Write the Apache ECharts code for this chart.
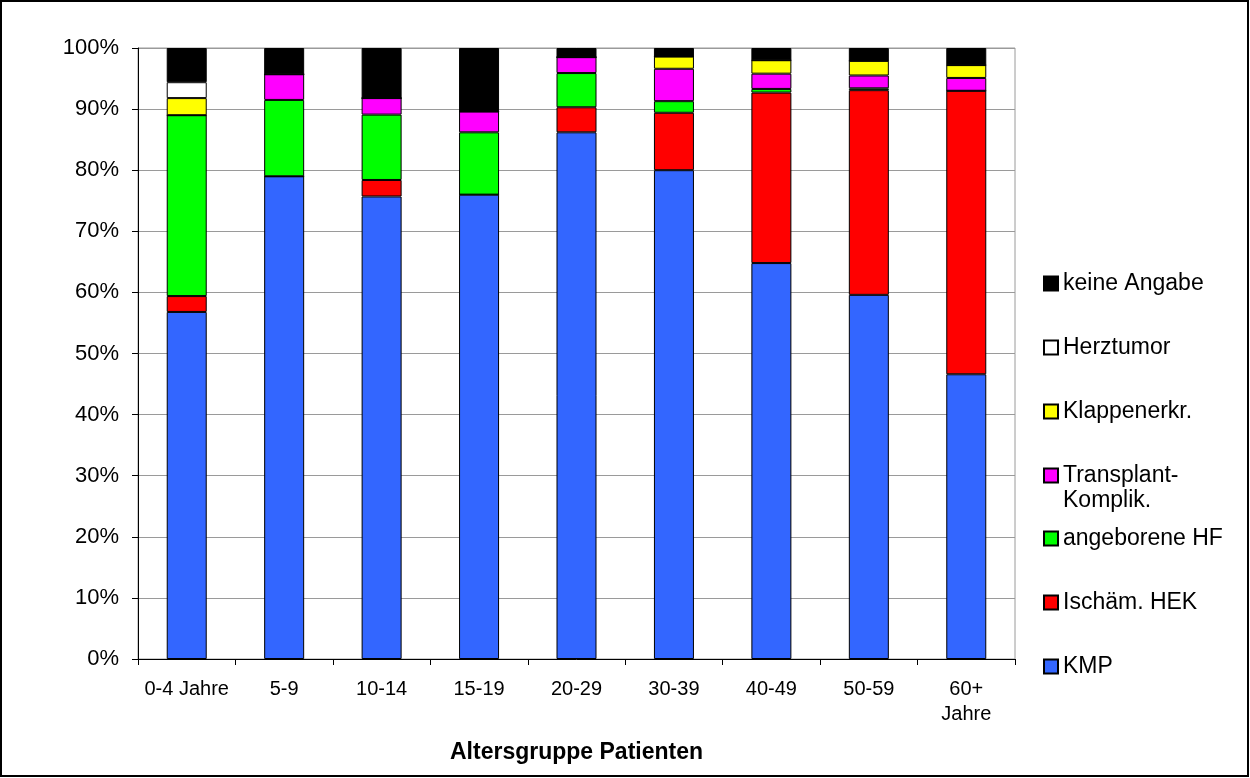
<!DOCTYPE html>
<html>
<head>
<meta charset="utf-8">
<script src="https://cdn.jsdelivr.net/npm/echarts@6/dist/echarts.min.js"></script>
<style>
  html, body { margin: 0; padding: 0; background: #fff; }
  #chart { width: 1250px; height: 778px; }
</style>
</head>
<body>
<div id="chart"></div>
<script>
// Age groups of patients
const categories = ['0-4 Jahre', '5-9', '10-14', '15-19', '20-29', '30-39', '40-49', '50-59', '60+\nJahre'];

// Share of each diagnosis per age group, in percent (stacked bottom to top)
const kmp        = [56.8, 79.0, 75.7, 76.0, 86.2, 80.0, 64.8, 59.6, 46.6];
const ischHek    = [2.6, 0, 2.7, 0, 4.1, 9.4, 27.9, 33.5, 46.4];
const angeboren  = [29.6, 12.5, 10.7, 10.2, 5.6, 1.9, 0.6, 0.3, 0];
const transplant = [0, 4.2, 2.7, 3.4, 2.6, 5.3, 2.5, 2.1, 2.1];
const klappen    = [2.8, 0, 0, 0, 0, 2.0, 2.2, 2.4, 2.1];
const herztumor  = [2.6, 0, 0, 0, 0, 0, 0, 0, 0];
const keineAng   = [5.6, 4.3, 8.2, 10.4, 1.5, 1.4, 2.0, 2.1, 2.8];

const yTicks = [0, 10, 20, 30, 40, 50, 60, 70, 80, 90, 100];

const seriesDefs = [
  { name: 'KMP', data: kmp, color: '#3366FF' },
  { name: 'Ischäm. HEK', data: ischHek, color: '#FF0000' },
  { name: 'angeborene HF', data: angeboren, color: '#00FF00' },
  { name: 'Transplant-Komplik.', data: transplant, color: '#FF00FF' },
  { name: 'Klappenerkr.', data: klappen, color: '#FFFF00' },
  { name: 'Herztumor', data: herztumor, color: '#FFFFFF' },
  { name: 'keine Angabe', data: keineAng, color: '#000000' }
];

const FONT = '"Liberation Sans", Arial, sans-serif';

// Vertical centre of each legend row
const legendCenters = {
  'keine Angabe': 283,
  'Herztumor': 347,
  'Klappenerkr.': 411,
  'Transplant-Komplik.': 475,
  'angeborene HF': 538,
  'Ischäm. HEK': 602,
  'KMP': 666
};

// One legend block per entry so each row sits at its own height.
// The two-line entry gets an empty first line so that its first
// text line stays level with the colour box.
const legends = seriesDefs.map(function (s) {
  const multi = s.name === 'Transplant-Komplik.';
  return {
    data: [s.name],
    orient: 'vertical',
    left: 1043,
    top: legendCenters[s.name] - (multi ? 37 : 12),
    padding: 0,
    itemWidth: 14,
    itemHeight: 14,
    itemGap: 0,
    icon: 'rect',
    selectedMode: false,
    formatter: function (name) {
      return name === 'Transplant-Komplik.' ? ' \nTransplant-\nKomplik.' : name;
    },
    textStyle: {
      fontFamily: FONT,
      fontSize: 23,
      color: '#000',
      lineHeight: 25
    }
  };
});

const chart = echarts.init(document.getElementById('chart'), null, { renderer: 'canvas' });

chart.setOption({
  animation: false,
  backgroundColor: '#fff',
  textStyle: { fontFamily: FONT },
  grid: {
    left: 138,
    right: 235,
    top: 48,
    bottom: 119,
    show: true,
    borderColor: '#9a9a9a',
    borderWidth: 1,
    backgroundColor: 'transparent'
  },
  legend: legends,
  xAxis: {
    type: 'category',
    data: categories,
    boundaryGap: true,
    name: 'Altersgruppe Patienten',
    nameLocation: 'middle',
    nameGap: 82,
    nameTextStyle: { fontFamily: FONT, fontSize: 23, fontWeight: 'bold', color: '#000' },
    axisLine: { show: true, lineStyle: { color: '#000', width: 1 } },
    axisTick: { show: true, length: 6, alignWithLabel: false, lineStyle: { color: '#000' } },
    axisLabel: { fontFamily: FONT, fontSize: 20, color: '#000', margin: 18, lineHeight: 25, interval: 0 },
    splitLine: { show: false }
  },
  yAxis: {
    type: 'value',
    min: yTicks[0],
    max: yTicks[yTicks.length - 1],
    interval: 10,
    axisLine: { show: true, lineStyle: { color: '#000', width: 1 } },
    axisTick: { show: true, length: 6, lineStyle: { color: '#000' } },
    axisLabel: { fontFamily: FONT, fontSize: 22, color: '#000', margin: 19, formatter: '{value}%' },
    splitLine: { show: true, lineStyle: { color: '#9a9a9a', width: 1 } }
  },
  series: seriesDefs.map(function (s) {
    return {
      name: s.name,
      type: 'bar',
      stack: 'total',
      data: s.data,
      barWidth: 40,
      itemStyle: { color: s.color, borderColor: '#000', borderWidth: 1 },
      emphasis: { disabled: true }
    };
  }),
  graphic: [
    {
      type: 'rect',
      shape: { x: 1, y: 1, width: 1247, height: 775 },
      style: { fill: 'none', stroke: '#000', lineWidth: 2 },
      silent: true,
      z: 100
    }
  ]
});
</script>
</body>
</html>
